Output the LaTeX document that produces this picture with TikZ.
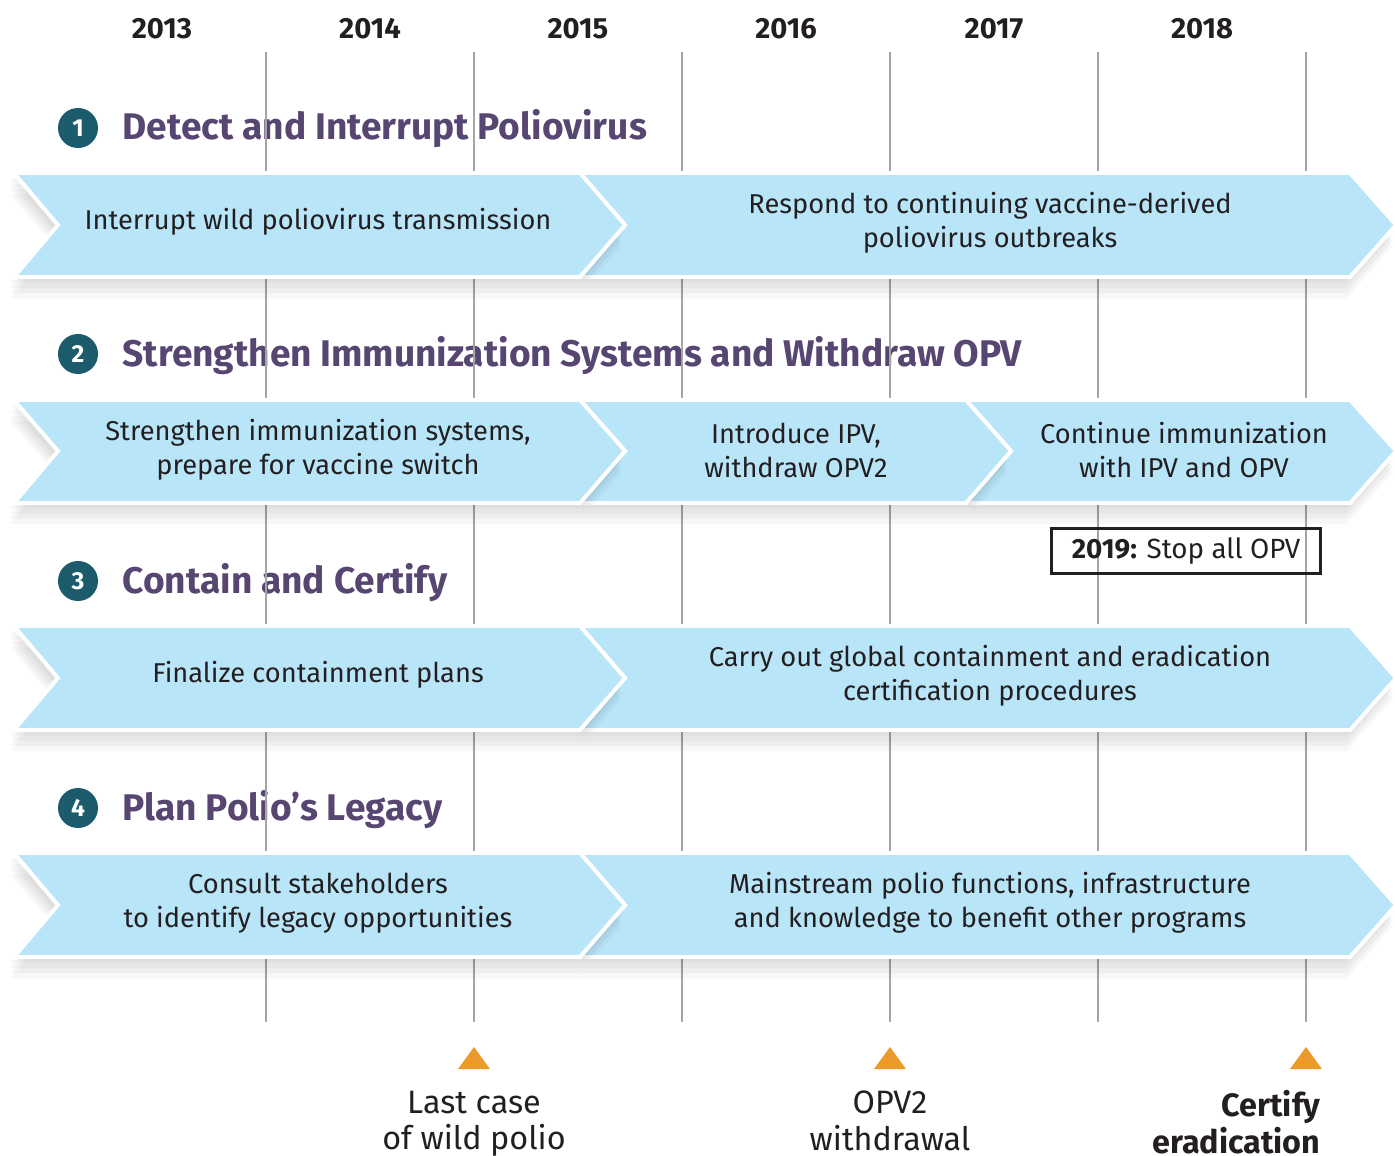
\documentclass[tikz,border=0pt]{standalone}
\usepackage{fontspec}
\setmainfont{Fira Sans}
\definecolor{chevblue}{HTML}{B9E5F9}
\definecolor{titlepurple}{HTML}{584672}
\definecolor{numteal}{HTML}{1B5B6C}
\definecolor{markorange}{HTML}{EC9A29}
\definecolor{inktext}{HTML}{231F20}
\definecolor{gridgray}{HTML}{A5A5A5}
\tikzset{
  softshade/.style={preaction={fill=black,opacity=0.035,transform canvas={xshift=#1,yshift=-1.5pt}},
    preaction={fill=black,opacity=0.035,transform canvas={xshift=#1,yshift=-3pt}},
    preaction={fill=black,opacity=0.035,transform canvas={xshift=#1,yshift=-4.5pt}},
    preaction={fill=black,opacity=0.03,transform canvas={xshift=#1,yshift=-6pt}}},
  chev/.style={fill=chevblue,draw=white,line width=1.1pt,line join=miter,softshade=-1pt},
  chevtext/.style={text=inktext,align=center,font=\fontsize{7.75pt}{9.7pt}\selectfont},
  gridline/.style={gridgray,line width=0.5pt},
  year/.style={text=inktext,anchor=base,font=\fontsize{8.3pt}{9pt}\selectfont\bfseries},
  numdot/.style={circle,fill=numteal,minimum size=0.4cm,inner sep=0pt,text=white,
    font=\fontsize{7pt}{8pt}\selectfont\bfseries},
  goaltitle/.style={anchor=base west,text=titlepurple,inner sep=0pt,
    font=\fontsize{10.55pt}{12pt}\selectfont\bfseries},
  milestone/.style={fill=markorange},
  mslabel/.style={text=inktext,align=center,anchor=north,inner sep=0pt,
    font=\fontsize{9.2pt}{10.5pt}\selectfont}
}
\begin{document}
\begin{tikzpicture}[x=0.01cm,y=-0.01cm]
\useasboundingbox (0,0) rectangle (1395,1155);
% years
\foreach \yr [count=\i] in {2013,2014,2015,2016,2017,2018}
  \node[year] (yr\yr) at ({162+208*(\i-1)},39) {\yr};
% goal titles
\node[numdot] (n1) at (78,128) {1};
\node[goaltitle] (g1) at (122,140) {Detect and Interrupt Poliovirus};
\node[numdot] (n2) at (78,354) {2};
\node[goaltitle] (g2) at (122,366) {Strengthen Immunization Systems and Withdraw OPV};
\node[numdot] (n3) at (78,581) {3};
\node[goaltitle] (g3) at (122,593) {Contain and Certify};
\node[numdot] (n4) at (78,808) {4};
\node[goaltitle] (g4) at (122,820) {Plan Polio’s Legacy};
% grid
\foreach \x in {266,474,682,890,1098,1306}
  \draw[gridline] (\x,52) -- (\x,1022);
% box
\node[draw=inktext,line width=0.8pt,minimum width=2.69cm,minimum height=0.45cm,
  inner sep=0pt,text=inktext,font=\fontsize{7.9pt}{10pt}\selectfont] (stop) at (1186,551)
  {\textbf{2019:} Stop all OPV};
% row 1
\draw[chev] (580,173)--(1350,173)--(1396,225)--(1350,277)--(580,277)--(625,225)--cycle;
\draw[chev] (14,173)--(580,173)--(625,225)--(580,277)--(14,277)--(58,225)--cycle;
\node[chevtext] (r1a) at (318,222) {Interrupt wild poliovirus transmission};
\node[chevtext] (r1b) at (990,223) {Respond to continuing vaccine-derived\\poliovirus outbreaks};
% row 2
\draw[chev] (966,400)--(1350,400)--(1396,451)--(1350,503)--(966,503)--(1011,451)--cycle;
\draw[chev] (580,400)--(966,400)--(1011,451)--(966,503)--(580,503)--(625,451)--cycle;
\draw[chev] (14,400)--(580,400)--(625,451)--(580,503)--(14,503)--(58,451)--cycle;
\node[chevtext] (r2a) at (318,450) {Strengthen immunization systems,\\prepare for vaccine switch};
\node[chevtext] (r2b) at (796,450) {Introduce IPV,\\withdraw OPV2};
\node[chevtext] (r2c) at (1184,450) {Continue immunization\\with IPV and OPV};
% row 3
\draw[chev] (580,626)--(1350,626)--(1396,678)--(1350,730)--(580,730)--(625,678)--cycle;
\draw[chev] (14,626)--(580,626)--(625,678)--(580,730)--(14,730)--(58,678)--cycle;
\node[chevtext] (r3a) at (318,675) {Finalize containment plans};
\node[chevtext] (r3b) at (990,676) {Carry out global containment and eradication\\certification procedures};
% row 4
\draw[chev] (580,853)--(1350,853)--(1396,905)--(1350,957)--(580,957)--(625,905)--cycle;
\draw[chev] (14,853)--(580,853)--(625,905)--(580,957)--(14,957)--(58,905)--cycle;
\node[chevtext] (r4a) at (318,903) {Consult stakeholders\\to identify legacy opportunities};
\node[chevtext] (r4b) at (990,903) {Mainstream polio functions, infrastructure\\and knowledge to benefit other programs};
% milestones
\fill[milestone] (458,1069)--(490,1069)--(474,1047)--cycle;
\fill[milestone] (874,1069)--(906,1069)--(890,1047)--cycle;
\fill[milestone] (1290,1069)--(1322,1069)--(1306,1047)--cycle;
\node[mslabel] (m1) at (474,1090) {Last case\\of wild polio};
\node[mslabel] (m2) at (890,1090) {OPV2\\withdrawal};
\node[mslabel,align=right,anchor=north east,font=\fontsize{9.2pt}{10.5pt}\selectfont\bfseries]
  (m3) at (1321,1090) {Certify\\eradication};
\end{tikzpicture}
\end{document}
